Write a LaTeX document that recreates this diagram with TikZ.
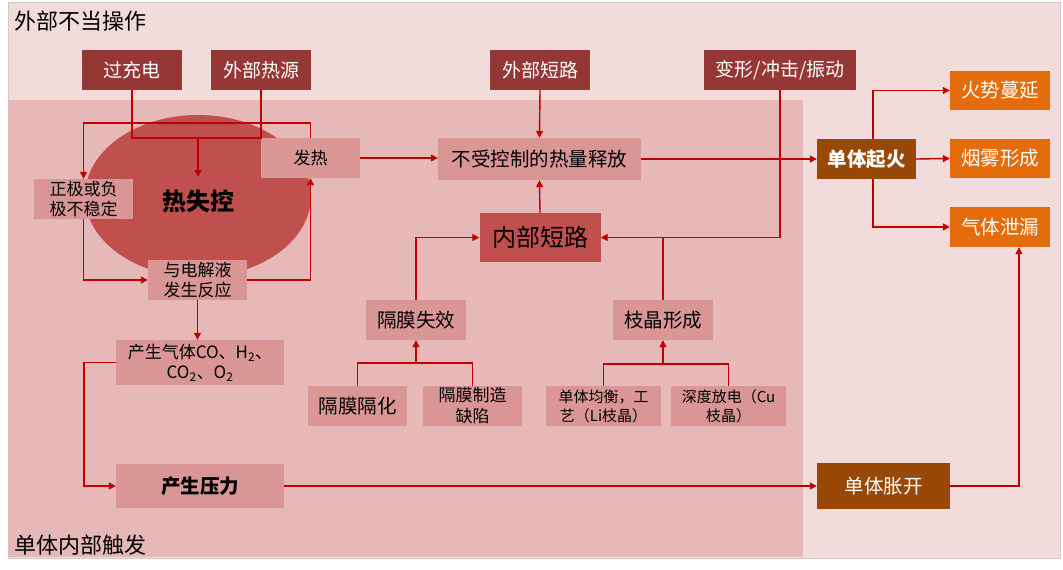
\documentclass[tikz,border=0pt]{standalone}
\usepackage{fontspec}
\setmainfont{Noto Sans CJK SC}
\usetikzlibrary{arrows.meta,calc}
\definecolor{outerbg}{HTML}{F2DCDB}
\definecolor{innerbg}{HTML}{E6B8B7}
\definecolor{extred}{HTML}{953735}
\definecolor{ellred}{HTML}{C0504D}
\definecolor{midpink}{HTML}{D99694}
\definecolor{linered}{HTML}{C00000}
\definecolor{brownbox}{HTML}{984807}
\definecolor{orangebox}{HTML}{E46C0A}
\begin{document}
\begin{tikzpicture}[x=1pt,y=-1pt,
  every node/.style={inner sep=0pt, align=center},
  ext/.style={fill=extred, text=white, font=\fontsize{19pt}{23pt}\selectfont},
  midbox/.style={fill=midpink, text=black},
  orabox/.style={fill=orangebox, text=white, font=\fontsize{19.5pt}{23pt}\selectfont},
  brnbox/.style={fill=brownbox, text=white, font=\fontsize{19.5pt}{23pt}\selectfont\bfseries},
  conn/.style={draw=linered, line width=1.4pt},
  arr/.style={conn, -{Triangle[length=7pt,width=7pt]}},
  fa/.style={font=\fontsize{17pt}{20pt}\selectfont},
  fb/.style={font=\fontsize{19.5pt}{23pt}\selectfont},
  fc/.style={font=\fontsize{15pt}{19pt}\selectfont},
  fd/.style={font=\fontsize{17pt}{21pt}\selectfont}
]
\useasboundingbox (0,0) rectangle (1063,570);
\fill[white] (0,0) rectangle (1063,570);
\filldraw[fill=outerbg, draw=black!20, line width=0.8pt] (8,2) rectangle (1060,558);
\fill[innerbg] (8,100) rectangle (803,557);
\fill[ellred] (198,196) ellipse [x radius=113pt, y radius=81pt];

% titles
\node[anchor=west, font=\fontsize{22pt}{26pt}\selectfont] (t1) at (14,21) {外部不当操作};
\node[anchor=west, font=\fontsize{22pt}{26pt}\selectfont] (t2) at (14,545) {单体内部触发};

% external causes
\node[ext, minimum width=100pt, minimum height=40pt] (gcd) at (132,70) {过充电};
\node[ext, minimum width=100pt, minimum height=40pt] (wbry) at (261,70) {外部热源};
\node[ext, minimum width=100pt, minimum height=40pt] (wbdl) at (540,70) {外部短路};
\node[ext, minimum width=152pt, minimum height=40pt] (bx) at (780,70) {变形/冲击/振动};

% thermal runaway loop
\node[font=\fontsize{24pt}{28pt}\selectfont\bfseries] (rsk) at (198,201) {热失控};
\node[midbox, fa, minimum width=99pt, minimum height=40pt] (fr) at (310.5,158) {发热};
\node[midbox, fa, minimum width=99pt, minimum height=40pt] (zj) at (83.5,199) {正极或负\\极不稳定};
\node[midbox, fa, minimum width=99pt, minimum height=40pt] (dj) at (197.5,280) {与电解液\\发生反应};
\node[midbox, fa, minimum width=168pt, minimum height=45pt] (qt) at (200,362.5) {产生气体CO、H\textsubscript{2}、\\CO\textsubscript{2}、O\textsubscript{2}};
\node[midbox, font=\fontsize{19.5pt}{23pt}\selectfont\bfseries, minimum width=168pt, minimum height=44pt] (yl) at (200,486) {产生压力};

% internal short circuit
\node[midbox, fb, minimum width=203pt, minimum height=42pt] (rl) at (539.5,159) {不受控制的热量释放};
\node[fill=ellred, font=\fontsize{24pt}{28pt}\selectfont, minimum width=121pt, minimum height=49pt] (nd) at (540,237.5) {内部短路};
\node[midbox, fb, minimum width=100pt, minimum height=40pt] (gms) at (416,320) {隔膜失效};
\node[midbox, fb, minimum width=100pt, minimum height=40pt] (zjx) at (663,320) {枝晶形成};
\node[midbox, fb, minimum width=99pt, minimum height=40pt] (gmg) at (357.5,406) {隔膜隔化};
\node[midbox, fd, minimum width=99pt, minimum height=40pt] (gmz) at (472.5,406) {隔膜制造\\缺陷};
\node[midbox, fc, minimum width=115pt, minimum height=40pt] (dtj) at (603.5,406) {单体均衡，工\\艺（Li枝晶）};
\node[midbox, fc, minimum width=115pt, minimum height=40pt] (sdf) at (728.5,406) {深度放电（Cu\\枝晶）};

% consequences
\node[brnbox, minimum width=99pt, minimum height=40pt] (qh) at (866.5,159) {单体起火};
\node[brnbox, font=\fontsize{19.5pt}{23pt}\selectfont\mdseries, minimum width=133pt, minimum height=46pt] (zk) at (883.5,486) {单体胀开};
\node[orabox, minimum width=100pt, minimum height=39pt] (hs) at (1000,90.5) {火势蔓延};
\node[orabox, minimum width=100pt, minimum height=39pt] (yw) at (1000,158.5) {烟雾形成};
\node[orabox, minimum width=100pt, minimum height=40pt] (qtx) at (1000,227) {气体泄漏};

% helper coordinates
\coordinate (jt) at (198,138);
\coordinate (rsktop) at (198,177);
\coordinate (loopy) at (0,123);
\coordinate (j1) at (416,363);
\coordinate (j2) at (663,364);

% connectors: thermal runaway
\draw[conn] (gcd.south) |- (jt);
\draw[conn] (wbry.south) |- (jt);
\draw[arr] (jt) -- (rsktop);
\draw[arr] (fr.north) |- (loopy -| zj.north) -- (zj.north);
\draw[arr] (zj.south) |- (dj.west);
\draw[arr] (dj.east) -| (fr.south);
\draw[arr] (dj.south) -- (dj.south |- qt.north);
\draw[arr] (qt.west) -- ++(-32,0) |- (yl.west);
\draw[arr] (yl.east) -- (zk.west);
\draw[arr] (zk.east) -| ($(qtx.south)+(19,0)$);

% connectors: heat release
\draw[arr] (fr.east) -- (fr.east -| rl.west);
\draw[arr] (wbdl.south) -- (rl.north);
\draw[arr] (nd.north) -- (rl.south);
\draw[arr] (rl.east) -- (qh.west);
\draw[arr] (bx.south) |- (nd.east);
\draw[conn] (zjx.north) -- (zjx.north |- nd.east);
\draw[arr] (gms.north) |- (nd.west);
\draw[conn] (gmg.north) |- (j1) -| (gmz.north);
\draw[arr] (j1) -- (gms.south);
\draw[conn] (dtj.north) |- (j2) -| (sdf.north);
\draw[arr] (j2) -- (zjx.south);

% connectors: fire
\draw[arr] ($(qh.north)+(6.5,0)$) |- (hs.west);
\draw[arr] (qh.east) -- (yw.west);
\draw[arr] ($(qh.south)+(6.5,0)$) |- (qtx.west);
\end{tikzpicture}
\end{document}
